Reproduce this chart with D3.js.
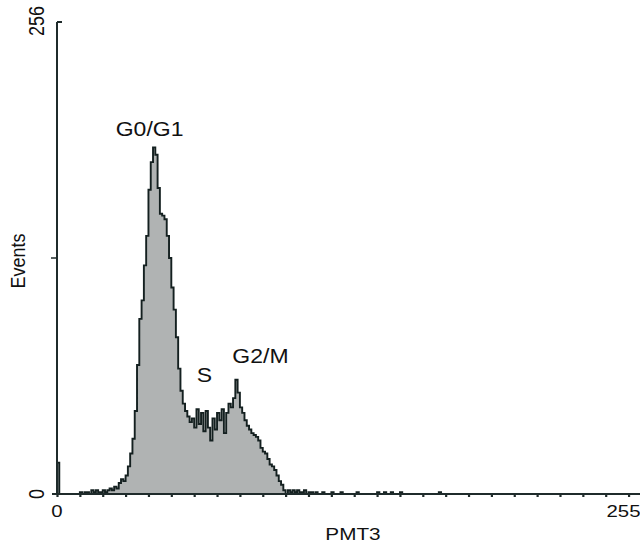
<!DOCTYPE html>
<html>
<head>
<meta charset="utf-8">
<script src="https://cdn.jsdelivr.net/npm/d3@7"></script>
<style>
	body { margin:0; background:#fff; }
	text { font-family:"Liberation Sans", Arial, sans-serif; fill:#111; }
</style>
</head>
<body>
<div id="histo"></div>
<script>
// events per channel, channels 0..120 (rest of the 256 channels are ~empty)
var counts = [
	17,0,0,0,0,0,0,0,0,0,
	1,0,1,1,0,2,1,2,1,1,
	2,1,2,3,2,4,3,6,8,7,
	10,15,22,30,45,70,95,105,124,140,
	165,180,188,184,166,152,151,149,140,128,
	112,100,85,68,56,49,45,42,39,41,
	36,46,38,44,34,45,36,29,41,35,
	44,40,46,33,44,49,47,52,62,55,
	47,44,40,37,35,33,32,31,29,25,
	23,22,19,16,15,13,10,7,5,2,
	0,2,1,2,1,2,1,1,2,0,
	1,1,0,1,0,0,1,0,0,0,
	1
];
// a few stray events further out: [channel, count]
var strays = [[124,1],[131,1],[140,1],[143,1],[146,1],[150,1],[167,1]];
var peakLabels = ["G0/G1","S","G2/M"];
var peakChannels = [40.5,64.5,89];
var peakEvents = [194,61,71];
var xTickLabels = [0,255];
var yTickLabels = [0,256];
var xName = "PMT3";
var yName = "Events";

var w = 640, h = 545;
var x0 = 57, x1 = 640, yBase = 494, yTop = 22;

var svg = d3.select("#histo")
	.append("svg")
	.attr("width",w)
	.attr("height",h);

var x = d3.scaleLinear().domain([0,255]).range([x0,x1]);
var y = d3.scaleLinear().domain([0,256]).range([yBase,yTop]);

// build full 256 channel table
var hist = [];
for (var c = 0; c < 256; c++){
	hist.push({ch:c, n: c < counts.length ? counts[c] : 0});
}
strays.forEach(function(s){ hist[s[0]].n = s[1]; });
hist.push({ch:256, n:0});

var area = d3.area()
	.curve(d3.curveStepAfter)
	.x(function(d){ return x(d.ch); })
	.y0(y(0))
	.y1(function(d){ return y(d.n); });
var line = d3.line()
	.curve(d3.curveStepAfter)
	.x(function(d){ return x(d.ch); })
	.y(function(d){ return y(d.n); });

svg.append("path")
	.datum(hist)
	.attr("d",area)
	.attr("fill","#b0b3b3");
svg.append("path")
	.datum(hist)
	.attr("d",line)
	.attr("fill","none")
	.attr("stroke","#142020")
	.attr("stroke-width",1.9);

// x axis with small ticks every 10 channels
var xAxis = d3.axisBottom(x)
	.tickValues(d3.range(0,256,10))
	.tickSize(3)
	.tickFormat("");
var xAxisCall = svg.append("g")
	.attr("transform","translate(0,"+yBase+")")
	.call(xAxis);
xAxisCall.select(".domain").remove();
xAxisCall.selectAll("line").attr("stroke","#1f2b2b").attr("stroke-width",2.2);
svg.append("line")
	.attr("x1",x0-5).attr("x2",x1)
	.attr("y1",yBase).attr("y2",yBase)
	.attr("stroke","#1f2b2b").attr("stroke-width",2);

// y axis
svg.append("line")
	.attr("x1",x0).attr("x2",x0)
	.attr("y1",y(256)).attr("y2",yBase)
	.attr("stroke","#1f2b2b").attr("stroke-width",2);
svg.append("line")
	.attr("x1",x0-6).attr("x2",x0)
	.attr("y1",y(128)).attr("y2",y(128))
	.attr("stroke","#1f2b2b").attr("stroke-width",1.5);
svg.append("line")
	.attr("x1",x0).attr("x2",x0+5)
	.attr("y1",y(256)).attr("y2",y(256))
	.attr("stroke","#1f2b2b").attr("stroke-width",2);

// tick labels
svg.selectAll(".xlab")
	.data(xTickLabels)
	.enter()
	.append("text")
	.attr("class","xlab")
	.attr("text-anchor","middle")
	.attr("font-size",17)
	.attr("transform",function(d){
		var px = d == 255 ? 623.5 : x(d);
		return "translate("+px+",517) scale(1.2,1)";
	})
	.text(function(d){ return d; });

svg.selectAll(".ylab")
	.data(yTickLabels)
	.enter()
	.append("text")
	.attr("class","ylab")
	.attr("text-anchor","middle")
	.attr("font-size",18)
	.attr("transform",function(d){
		var py = d == 256 ? 21 : y(d);
		return "translate(44,"+py+") scale(1.2,1) rotate(-90)";
	})
	.text(function(d){ return d; });

// axis names
svg.append("text")
	.attr("text-anchor","middle")
	.attr("font-size",17)
	.attr("transform","translate(353,540) scale(1.22,1)")
	.text(xName);
svg.append("text")
	.attr("text-anchor","middle")
	.attr("font-size",18)
	.attr("transform","translate(25,261) scale(1.15,1) rotate(-90)")
	.text(yName);

// phase labels
svg.selectAll(".peak")
	.data(peakLabels)
	.enter()
	.append("text")
	.attr("class","peak")
	.attr("text-anchor","middle")
	.attr("font-size",20)
	.attr("transform",function(d,i){
		return "translate("+x(peakChannels[i])+","+y(peakEvents[i])+") scale(1.15,1)";
	})
	.text(function(d){ return d; });
</script>
</body>
</html>
